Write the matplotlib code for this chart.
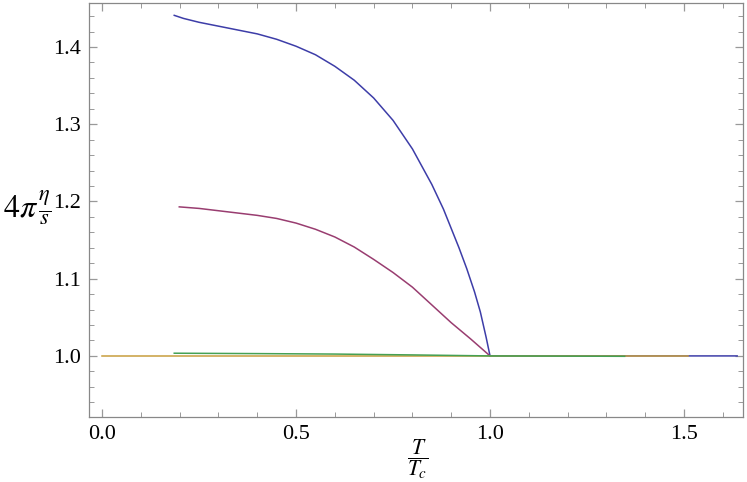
import matplotlib
matplotlib.use("Agg")
import matplotlib.pyplot as plt
from matplotlib.ticker import MultipleLocator, FormatStrFormatter

plt.rcParams["font.family"] = ["Liberation Serif", "DejaVu Serif"]
plt.rcParams["mathtext.fontset"] = "stix"

blue_x = [0.186, 0.21, 0.25, 0.30, 0.35, 0.40, 0.45, 0.50, 0.55, 0.60, 0.65,
          0.70, 0.75, 0.80, 0.85, 0.88, 0.90, 0.92, 0.94, 0.96, 0.975, 0.99,
          1.0, 1.637]
blue_y = [1.441, 1.437, 1.432, 1.427, 1.422, 1.417, 1.410, 1.401, 1.390,
          1.375, 1.357, 1.334, 1.305, 1.268, 1.222, 1.190, 1.165, 1.140,
          1.113, 1.083, 1.057, 1.024, 1.0, 1.0]

purple_x = [0.199, 0.25, 0.30, 0.35, 0.40, 0.45, 0.50, 0.55, 0.60, 0.65,
            0.70, 0.75, 0.80, 0.85, 0.90, 0.95, 1.0]
purple_y = [1.193, 1.191, 1.188, 1.185, 1.182, 1.178, 1.172, 1.164, 1.154,
            1.141, 1.125, 1.108, 1.089, 1.066, 1.043, 1.022, 1.0]

orange_x = [0.0, 1.51]
orange_y = [1.0, 1.0]

green_x = [0.186, 0.4, 0.6, 0.8, 1.0, 1.347]
green_y = [1.0035, 1.003, 1.0024, 1.0013, 1.0, 0.9995]

fig = plt.figure(figsize=(7.47, 4.82), dpi=100)
ax = fig.add_axes([0.119, 0.135, 0.8756, 0.8588])

ax.plot(blue_x, blue_y, color=(0.24, 0.24, 0.66), lw=1.1)
ax.plot(purple_x, purple_y, color=(0.6, 0.24, 0.44), lw=1.1)
ax.plot(orange_x, orange_y, color=(0.78, 0.62, 0.24), lw=1.1)
ax.plot(green_x, green_y, color=(0.27, 0.63, 0.33), lw=1.1)

ax.set_xlim(-0.034, 1.652)
ax.set_ylim(0.921, 1.457)

ax.xaxis.set_major_locator(MultipleLocator(0.5))
ax.xaxis.set_minor_locator(MultipleLocator(0.1))
ax.yaxis.set_major_locator(MultipleLocator(0.1))
ax.yaxis.set_minor_locator(MultipleLocator(0.02))
ax.xaxis.set_major_formatter(FormatStrFormatter("%.1f"))
ax.yaxis.set_major_formatter(FormatStrFormatter("%.1f"))

ax.tick_params(which="both", direction="in", top=True, right=True,
               color="#999999", labelsize=16, labelcolor="black")
ax.tick_params(which="major", length=6, width=0.9, pad=6)
ax.tick_params(which="minor", length=3.5, width=0.7)
for sp in ax.spines.values():
    sp.set_color("#888888")
    sp.set_linewidth(0.9)

fig.text(0.036, 0.57, r"$4\pi\,\frac{\eta}{s}$", fontsize=23,
         ha="center", va="center")
fig.text(0.559, 0.048, r"$\dfrac{T}{T_c}$", fontsize=15.5,
         ha="center", va="center")

fig.savefig("out.png", dpi=100)
